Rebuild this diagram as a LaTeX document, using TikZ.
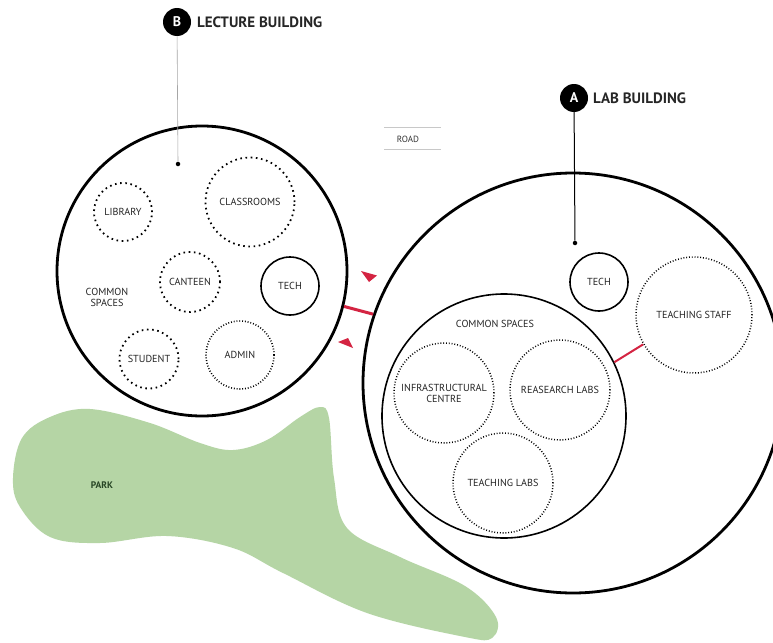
\documentclass[tikz,border=0pt]{standalone}
\usepackage{fontspec}
\setmainfont{PT Sans}
\definecolor{roadred}{RGB}{212,36,66}
\definecolor{parkgreen}{RGB}{181,213,165}
\definecolor{parktext}{RGB}{40,70,38}
\definecolor{roadgray}{RGB}{200,200,200}
\tikzset{
  lbl/.style={font=\fontsize{10.2}{11}\selectfont,text=black!85},
  bigcirc/.style={circle,draw=black,line width=2.8pt,inner sep=0pt},
  roomB/.style={circle,draw=black,line width=1.8pt,dash pattern=on 1.6pt off 3.6pt,inner sep=0pt,lbl,align=center},
  roomA/.style={circle,draw=black,line width=1.5pt,dash pattern=on 0.9pt off 1.9pt,inner sep=0pt,lbl,align=center},
  solidroom/.style={circle,draw=black,line width=1.6pt,inner sep=0pt,lbl,align=center},
  tag/.style={circle,fill=black,text=white,minimum size=28pt,inner sep=0pt,font=\bfseries\fontsize{14}{14}\selectfont},
  head/.style={anchor=west,inner sep=0pt,font=\bfseries\fontsize{15}{16}\selectfont,text=black!85},
  pin/.style={circle,fill=black,minimum size=4.5pt,inner sep=0pt},
  plain/.style={inner sep=0pt,lbl,align=center},
  redlink/.style={draw=roadred,line width=3pt},
  redtip/.style={fill=roadred}
}
\begin{document}
\begin{tikzpicture}[x=1pt,y=-1pt]
\useasboundingbox (0,0) rectangle (773,642);
\clip (0,0) rectangle (773,642);
\fill[white] (0,0) rectangle (773,642);
% park
\fill[parkgreen] plot[smooth cycle,tension=0.6] coordinates {
 (50,417) (90,409) (150,423) (200,443) (233,450) (267,440) (300,417) (320,407) (329,418)
 (334,478) (347,528) (400,557) (465,586) (496,617) (492,638) (465,637) (367,613)
 (283,573) (233,548) (167,536) (100,543) (50,537) (20,507) (13,478) (22,438)};
\node[inner sep=0pt,text=parktext,font=\bfseries\fontsize{9.5}{10}\selectfont] (park) at (102,485) {PARK};
% road legend
\draw[roadgray,line width=0.9pt] (384,127) -- (441,127);
\draw[roadgray,line width=0.9pt] (384,149) -- (441,149);
\node[inner sep=0pt,font=\fontsize{9}{10}\selectfont,text=black!80] (road) at (408,139) {ROAD};
% building B
\node[bigcirc,minimum size=290pt] (B) at (202,271) {};
\node[tag] (tagB) at (177,22) {B};
\node[head] (headB) at (197,22) {LECTURE BUILDING};
\node[pin] (pinB) at (178,164) {};
\draw[gray!70,line width=0.6pt] (tagB) -- (pinB);
\node[roomB,minimum size=58pt] (library) at (123,212) {LIBRARY};
\node[roomB,minimum size=89pt] (classrooms) at (250,202) {CLASSROOMS};
\node[roomB,minimum size=60pt] (canteen) at (190,282) {CANTEEN};
\node[solidroom,minimum size=58pt] (techB) at (290,286) {TECH};
\node[plain] (commonB) at (107,297) {COMMON\\SPACES};
\node[roomB,minimum size=59pt] (student) at (149,359) {STUDENT};
\node[roomA,minimum size=68pt,line width=1.6pt] (admin) at (240,355) {ADMIN};
% building A
\node[bigcirc,minimum size=420pt] (A) at (573,383) {};
\node[tag] (tagA) at (574,98) {A};
\node[head] (headA) at (593,98) {LAB BUILDING};
\node[pin] (pinA) at (575,243) {};
\draw[black,line width=1pt] (tagA) -- (pinA);
\node[solidroom,minimum size=58pt] (techA) at (599,282) {TECH};
\node[roomA,minimum size=116pt] (staff) at (694,315) {TEACHING STAFF};
\node[circle,draw=black,line width=1.6pt,minimum size=244pt,inner sep=0pt] (common) at (504,416) {};
\node[plain] (commonA) at (495,324) {COMMON SPACES};
\node[roomA,minimum size=100pt] (infra) at (444,393) {INFRASTRUCTURAL\\CENTRE};
\node[roomA,minimum size=100pt] (research) at (560,390) {REASEARCH LABS};
\node[roomA,minimum size=100pt] (tlabs) at (503,483) {TEACHING LABS};
% red links
\draw[redlink] (B.-14) -- (A.161);
\draw[roadred,line width=2pt] (common.26) -- (staff.210);
\fill[redtip] (361,271) -- (377,275.5) -- (369,282) -- cycle;
\fill[redtip] (338,342) -- (353,348) -- (348,338) -- cycle;
\end{tikzpicture}
\end{document}
